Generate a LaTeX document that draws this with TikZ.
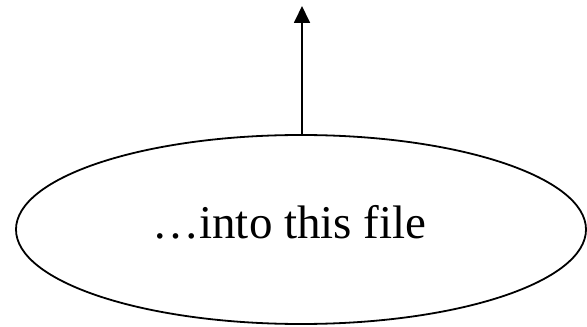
\documentclass[tikz,border=0pt]{standalone}
\usepackage{fontspec}
\setmainfont{Liberation Serif}
\usetikzlibrary{shapes.geometric,arrows.meta}
\begin{document}
\begin{tikzpicture}[x=1pt,y=1pt,
  ellbox/.style={draw,ellipse,line width=1.8pt,inner sep=0pt,minimum width=570pt,minimum height=189pt},
  conn/.style={line width=1.8pt,-{Triangle[width=16pt,length=17pt]}},
  lbl/.style={font=\fontsize{47}{51}\selectfont,inner sep=0pt,anchor=base}]
\useasboundingbox (0,0) rectangle (587,327);
\node[ellbox] (e) at (301,97.5) {};
\node[lbl] (t) at (289.5,88) {…into this file};
\coordinate (top) at (302,321);
\draw[conn] (e.north -| top) -- (top);
\end{tikzpicture}
\end{document}
